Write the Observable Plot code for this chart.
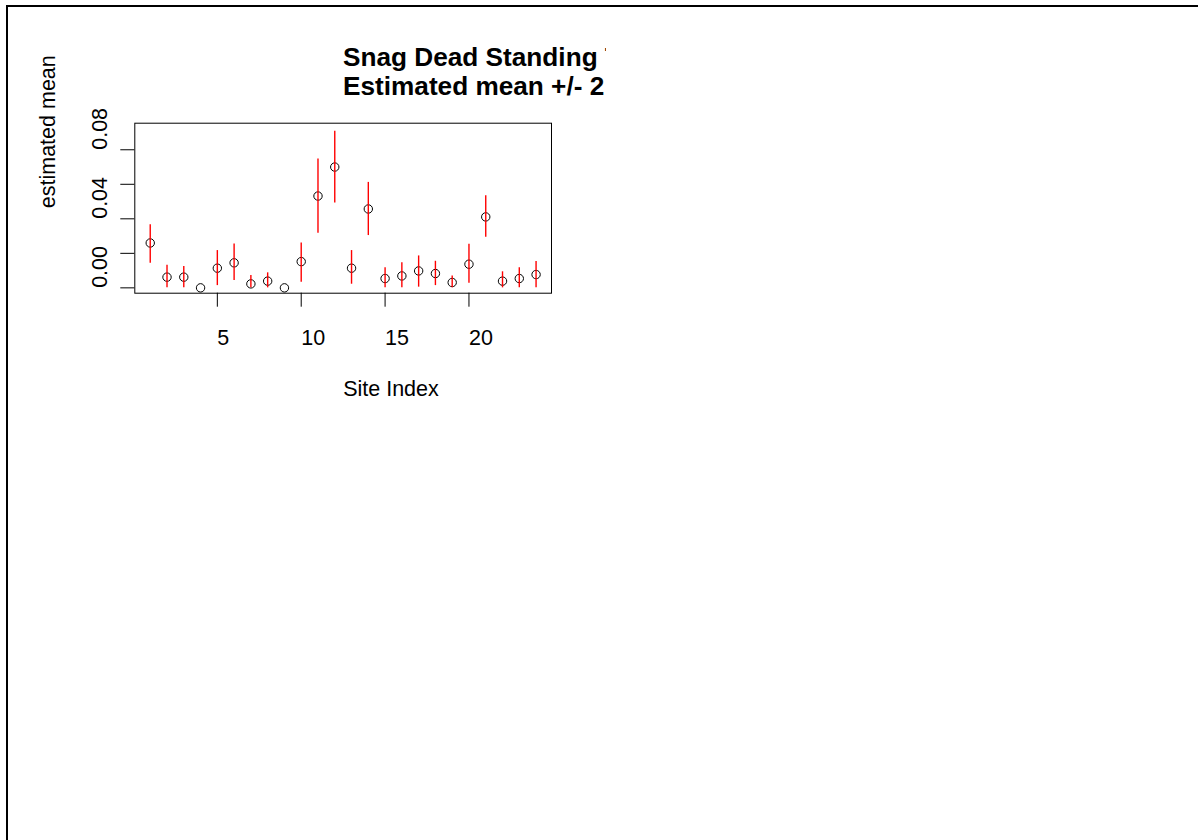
<!DOCTYPE html>
<html>
<head>
<meta charset="utf-8">
<script src="https://cdn.jsdelivr.net/npm/d3@7"></script>
<script src="https://cdn.jsdelivr.net/npm/@observablehq/plot@0.6"></script>
<style>
  html, body { margin: 0; padding: 0; background: #fff; }
  #wrap { position: relative; width: 1198px; height: 840px; overflow: hidden; }
  #border { position: absolute; left: 6px; top: 5px; right: -10px; bottom: -10px;
            border-top: 2px solid #000; border-left: 2px solid #000; pointer-events: none; }
  #title { position: absolute; left: 343px; top: 43px; width: 263px; overflow: hidden;
           white-space: nowrap; font-family: "Liberation Sans", Arial, sans-serif;
           font-weight: bold; font-size: 26.2px; line-height: 29px; color: #000; }
  #chart { position: absolute; left: 0; top: 0; }
</style>
</head>
<body>
<div id="wrap">
  <div id="chart"></div>
  <div id="title"><div>Snag Dead Standing T</div><div>Estimated mean +/- 2</div></div>
  <div id="border"></div>
</div>
<script>
const site  = [1,2,3,4,5,6,7,8,9,10,11,12,13,14,15,16,17,18,19,20,21,22,23,24];
const mean  = [0.0260,0.0062,0.0062,0.0000,0.0114,0.0145,0.0023,0.0039,0.0000,0.0152,0.0532,0.0700,0.0114,0.0457,0.0054,0.0069,0.0098,0.0083,0.0031,0.0137,0.0411,0.0039,0.0054,0.0077];
const lower = [0.0143,0.0000,0.0000,0.0000,0.0013,0.0042,0.0000,0.0000,0.0000,0.0033,0.0316,0.0492,0.0021,0.0303,0.0000,0.0000,0.0004,0.0013,0.0000,0.0027,0.0293,0.0000,0.0000,0.0000];
const upper = [0.0366,0.0131,0.0123,0.0000,0.0216,0.0254,0.0071,0.0087,0.0000,0.0260,0.0746,0.0908,0.0216,0.0611,0.0116,0.0145,0.0185,0.0154,0.0069,0.0253,0.0534,0.0093,0.0116,0.0152];
const xTicks = [5,10,15,20];
const yTicks = [0,0.02,0.04,0.06,0.08];
const yTickLabels = [0,0.04,0.08];
const xLabel = "Site Index";
const yLabel = "estimated mean";

const data = site.map((s,i) => ({site: s, mean: mean[i], lower: lower[i], upper: upper[i]}));
const FS = 21.5;

const chart = Plot.plot({
  width: 1198,
  height: 840,
  marginLeft: 134.3,
  marginRight: 647,
  marginTop: 122.7,
  marginBottom: 547.3,
  style: {fontFamily: '"Liberation Sans", Arial, sans-serif', fontSize: FS + "px", color: "#000", background: "transparent", overflow: "visible"},
  x: {domain: [0.08, 24.92], axis: null},
  y: {domain: [-0.0031, 0.0954], axis: null},
  marks: [
    Plot.dot(data, {x: "site", y: "mean", r: 4.2, stroke: "#000", strokeWidth: 1, fill: "none"}),
    Plot.ruleX(data, {x: "site", y1: "lower", y2: "upper", stroke: "#ff0000", strokeWidth: 1.4}),
    Plot.frame({stroke: "#000", strokeWidth: 1}),
    Plot.axisX({ticks: xTicks, tickSize: 14, anchor: "bottom", stroke: "#000", tickFormat: () => "", label: null}),
    Plot.axisY({ticks: yTicks, tickSize: 14, anchor: "left", stroke: "#000", tickFormat: () => "", label: null}),
    Plot.text(xTicks, {x: d => d, text: d => String(d), frameAnchor: "bottom", textAnchor: "start", lineAnchor: "middle", dy: 45.4, fill: "#000"}),
    Plot.text(yTickLabels, {y: d => d, text: d => d.toFixed(2), frameAnchor: "left", textAnchor: "start", lineAnchor: "middle", rotate: -90, dx: -34.2, fill: "#000"}),
    Plot.text([xLabel], {text: d => d, frameAnchor: "bottom", textAnchor: "start", lineAnchor: "middle", dy: 96.4, fill: "#000"}),
    Plot.text([yLabel], {text: d => d, frameAnchor: "left", textAnchor: "start", lineAnchor: "middle", rotate: -90, dx: -86.2, fill: "#000"})
  ]
});
document.getElementById("chart").appendChild(chart);
</script>
</body>
</html>
